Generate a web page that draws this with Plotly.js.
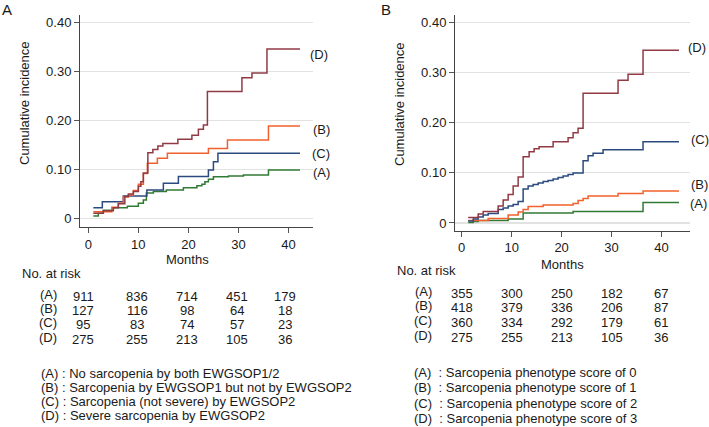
<!DOCTYPE html>
<html>
<head>
<meta charset="utf-8">
<script src="https://cdn.plot.ly/plotly-3.0.1.min.js"></script>
<style>html,body{margin:0;padding:0;background:#fff;}#chart{width:709px;height:427px;}</style>
</head>
<body>
<div id="chart"></div>
<script>
// ---------- Data: Panel A ----------
const groupLabels = ["(A)", "(B)", "(C)", "(D)"];
const aMonthsA = [1, 2, 3, 5, 7.8, 10, 11, 11.6, 13, 15.6, 19, 21.7, 22.7, 23.3, 24, 25, 28, 31, 36, 42.3];
const aValsA   = [0.005, 0.011, 0.017, 0.022, 0.025, 0.031, 0.038, 0.052, 0.055, 0.058, 0.063, 0.067, 0.070, 0.075, 0.080, 0.085, 0.087, 0.089, 0.099, 0.099];
const aMonthsB = [1, 4.7, 6, 7, 8, 9, 10, 11, 11.8, 13.8, 15.8, 24, 27.8, 36, 42.3];
const aValsB   = [0.014, 0.023, 0.031, 0.044, 0.048, 0.057, 0.070, 0.092, 0.113, 0.123, 0.133, 0.143, 0.160, 0.189, 0.189];
const aMonthsC = [1, 2.8, 7, 11.7, 15, 18, 24, 25, 25.9, 42.3];
const aValsC   = [0.022, 0.034, 0.046, 0.058, 0.072, 0.086, 0.099, 0.116, 0.133, 0.133];
const aMonthsD = [1, 3, 5, 6, 7.3, 8, 9, 10, 10.5, 11, 11.9, 12.9, 13.9, 14.9, 17.9, 20.7, 22, 23, 23.8, 30.7, 32.7, 35.7, 42.3];
const aValsD   = [0.011, 0.016, 0.022, 0.030, 0.045, 0.050, 0.055, 0.066, 0.075, 0.093, 0.134, 0.141, 0.148, 0.153, 0.162, 0.170, 0.182, 0.191, 0.259, 0.287, 0.297, 0.346, 0.346];

// ---------- Data: Panel B ----------
const bMonthsA = [1.3, 2.3, 3.3, 9.3, 12.3, 22.3, 36.3, 43.5];
const bValsA   = [0.001, 0.003, 0.005, 0.008, 0.020, 0.023, 0.041, 0.041];
const bMonthsB = [1.3, 5.3, 9.3, 11.3, 12.3, 13.3, 16.3, 22.3, 23.3, 24.3, 25.3, 31.3, 36.3, 43.5];
const bValsB   = [0.005, 0.009, 0.016, 0.022, 0.027, 0.033, 0.036, 0.039, 0.045, 0.049, 0.054, 0.059, 0.064, 0.064];
const bMonthsC = [1.3, 2.3, 3.3, 4.3, 5.3, 7.3, 8.3, 9.3, 10.3, 11.3, 12.3, 13.3, 14.3, 15.3, 16.3, 17.3, 18.3, 19.3, 20.3, 21.3, 22.3, 24.3, 25.3, 26.3, 28.3, 36.3, 43.5];
const bValsC   = [0.004, 0.008, 0.012, 0.016, 0.019, 0.027, 0.030, 0.034, 0.037, 0.043, 0.068, 0.074, 0.077, 0.080, 0.083, 0.085, 0.088, 0.091, 0.094, 0.097, 0.100, 0.124, 0.134, 0.139, 0.146, 0.162, 0.162];
const bMonthsD = [1.3, 3.3, 4.3, 7.3, 8.3, 9.3, 10.3, 11.3, 12.3, 13.5, 14.5, 15.5, 18.3, 21.3, 22.3, 23.3, 24.3, 31.3, 33.3, 36.3, 43.5];
const bValsD   = [0.011, 0.018, 0.023, 0.034, 0.046, 0.057, 0.074, 0.092, 0.132, 0.142, 0.148, 0.152, 0.162, 0.170, 0.180, 0.189, 0.259, 0.285, 0.297, 0.345, 0.345];

// ---------- Ticks & tables ----------
const xTicks = [0, 10, 20, 30, 40];
const yTicks = [0, 0.1, 0.2, 0.3, 0.4];
const yTickText = ["0", "0.10", "0.20", "0.30", "0.40"];
const riskA = [
  [911, 836, 714, 451, 179],
  [127, 116, 98, 64, 18],
  [95, 83, 74, 57, 23],
  [275, 255, 213, 105, 36]
];
const riskB = [
  [355, 300, 250, 182, 67],
  [418, 379, 336, 206, 87],
  [360, 334, 292, 179, 61],
  [275, 255, 213, 105, 36]
];
const legendA = [
  "(A) : No sarcopenia by both EWGSOP1/2",
  "(B) : Sarcopenia by EWGSOP1 but not by EWGSOP2",
  "(C) : Sarcopenia (not severe) by EWGSOP2",
  "(D) : Severe sarcopenia by EWGSOP2"
];
const legendB = [
  "(A)  : Sarcopenia phenotype score of 0",
  "(B)  : Sarcopenia phenotype score of 1",
  "(C)  : Sarcopenia phenotype score of 2",
  "(D)  : Sarcopenia phenotype score of 3"
];

// ---------- Styling ----------
const W = 709, H = 427;
const FONT = "Liberation Sans, Arial, sans-serif";
const TXT = "#1a1a1a";
const colors = {A: "#317a34", B: "#f2602e", C: "#2b4a80", D: "#913a44"};
const px = (x) => x / W;
const py = (y) => 1 - y / H;

function step(x, y, color, xa, ya) {
  return {x: x, y: y, type: "scatter", mode: "lines", line: {shape: "hv", color: color, width: 1.5},
          xaxis: xa, yaxis: ya, hoverinfo: "skip", showlegend: false};
}

const traces = [
  step(aMonthsA, aValsA, colors.A, "x", "y"),
  step(aMonthsC, aValsC, colors.C, "x", "y"),
  step(aMonthsB, aValsB, colors.B, "x", "y"),
  step(aMonthsD, aValsD, colors.D, "x", "y"),
  step(bMonthsA, bValsA, colors.A, "x2", "y2"),
  step(bMonthsB, bValsB, colors.B, "x2", "y2"),
  step(bMonthsC, bValsC, colors.C, "x2", "y2"),
  step(bMonthsD, bValsD, colors.D, "x2", "y2")
];

function ann(text, x, y, opt) {
  opt = opt || {};
  return Object.assign({text: text, x: px(x), y: py(y), xref: "paper", yref: "paper", showarrow: false,
    xanchor: "left", yanchor: "middle", font: {family: FONT, size: 13, color: TXT}}, opt);
}

const annotations = [];
// panel letters
annotations.push(ann("A", 0, 9, {font: {family: FONT, size: 15, color: TXT}}));
annotations.push(ann("B", 379, 9, {font: {family: FONT, size: 15, color: TXT}}));
// y titles
annotations.push(ann("Cumulative incidence", 24, 103, {textangle: -90, xanchor: "center"}));
annotations.push(ann("Cumulative incidence", 399, 104, {textangle: -90, xanchor: "center"}));
// x titles
annotations.push(ann("Months", 188, 259, {xanchor: "center"}));
annotations.push(ann("Months", 562, 264, {xanchor: "center"}));
// curve end labels
const endA = [[321, 172], [321, 129], [321, 154], [319, 54]];
const endB = [[698, 203], [699, 184], [700, 140], [697, 47]];
groupLabels.forEach((g, i) => {
  annotations.push(ann(g, endA[i][0], endA[i][1], {xanchor: "center"}));
  annotations.push(ann(g, endB[i][0], endB[i][1], {xanchor: "center"}));
});
// No. at risk
annotations.push(ann("No. at risk", 20, 273));
annotations.push(ann("No. at risk", 395, 270));
const rowYA = [296, 310, 324, 339];
const rowYB = [293, 307, 322, 337];
const colShiftA = [-5, -1, -1, -1, -3];
groupLabels.forEach((g, i) => {
  annotations.push(ann(g, 48, rowYA[i] - 2, {xanchor: "center"}));
  annotations.push(ann(g, 423, rowYB[i] - 2, {xanchor: "center"}));
  xTicks.forEach((m, j) => {
    annotations.push({text: String(riskA[i][j]), x: m, xref: "x", y: py(rowYA[i]), yref: "paper",
      showarrow: false, xanchor: "center", yanchor: "middle", xshift: colShiftA[j],
      font: {family: FONT, size: 13, color: TXT}});
    annotations.push({text: String(riskB[i][j]), x: m, xref: "x2", y: py(rowYB[i]), yref: "paper",
      showarrow: false, xanchor: "center", yanchor: "middle", xshift: j === 4 ? -1 : 0,
      font: {family: FONT, size: 13, color: TXT}});
  });
});
// group legends
const legYA = [373, 387, 401, 415];
const legYB = [372, 387, 403, 418];
legendA.forEach((t, i) => annotations.push(ann(t, 39, legYA[i])));
legendB.forEach((t, i) => annotations.push(ann(t, 412, legYB[i])));

const xBase = {tickvals: xTicks, ticks: "outside", ticklen: 5, tickcolor: "#555", tickwidth: 1,
  showline: true, linecolor: "#444", linewidth: 1, showgrid: false, zeroline: false,
  tickfont: {family: FONT, size: 13, color: TXT}};
const yBase = {tickvals: yTicks, ticktext: yTickText, ticks: "outside", ticklen: 5, tickcolor: "#555", tickwidth: 1,
  showline: true, linecolor: "#444", linewidth: 1, showgrid: true, gridcolor: "#e2e2e2", gridwidth: 1.2,
  zeroline: false, tickfont: {family: FONT, size: 13, color: TXT}};

const layout = {
  width: W, height: H,
  margin: {l: 0, r: 0, t: 0, b: 0},
  paper_bgcolor: "#fff", plot_bgcolor: "#fff",
  font: {family: FONT, size: 13, color: TXT},
  showlegend: false,
  xaxis: Object.assign({}, xBase, {domain: [px(80), px(313)], range: [-1.66, 44.9], anchor: "y"}),
  yaxis: Object.assign({}, yBase, {domain: [py(227), py(15)], range: [-0.0173, 0.4153], anchor: "x"}),
  xaxis2: Object.assign({}, xBase, {domain: [px(455), px(690)], range: [-1.34, 45.7], anchor: "y2"}),
  yaxis2: Object.assign({}, yBase, {domain: [py(230.7), py(15)], range: [-0.0154, 0.4152], anchor: "x2"}),
  annotations: annotations
};

Plotly.newPlot("chart", traces, layout, {staticPlot: true, displayModeBar: false});
</script>
</body>
</html>
